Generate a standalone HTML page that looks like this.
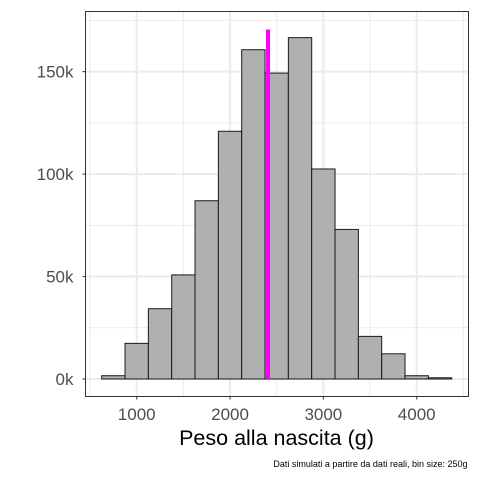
<!DOCTYPE html>
<html><head><meta charset="utf-8"><style>
body{margin:0;background:#fff;}
svg{display:block;font-family:"Liberation Sans",sans-serif;}
</style></head><body>
<svg id="chart" width="480" height="480"></svg>
<script>
const binCenters=[750,1000,1250,1500,1750,2000,2250,2500,2750,3000,3250,3500,3750,4000,4250];
const counts=[1.6,17.4,34.3,50.8,87,120.9,160.7,149.3,166.6,102.5,73,20.8,12.3,1.6,0.6];
const binWidth=250;
const xTicks=[1000,2000,3000,4000];
const xTickLabels=["1000","2000","3000","4000"];
const xMinor=[500,1500,2500,3500,4500];
const yTicks=[0,50,100,150];
const yTickLabels=["0k","50k","100k","150k"];
const yMinor=[25,75,125,175];
const meanLine=2407, meanTop=170.6;
const L=85.5,R=468.5,T=11.5,B=396.5;
const xs=v=>136.7+(v-1000)*0.093333;
const ys=v=>379-v*2.049;
const svg=document.getElementById('chart');
const NS='http://www.w3.org/2000/svg';
function mk(tag,attrs,parent){const e=document.createElementNS(NS,tag);for(const k in attrs)e.setAttribute(k,attrs[k]);(parent||svg).appendChild(e);return e;}
const panel=mk('rect',{x:L,y:T,width:R-L,height:B-T,fill:'#fff'});


const grid=mk('g',{});


xMinor.forEach(v=>{const x=xs(v);if(x>L&&x<R)mk('line',{x1:x,x2:x,y1:T,y2:B,stroke:'#ebebeb','stroke-width':1},grid);});
yMinor.forEach(v=>{const y=ys(v);if(y>T&&y<B)mk('line',{x1:L,x2:R,y1:y,y2:y,stroke:'#ebebeb','stroke-width':1},grid);});
xTicks.forEach(v=>mk('line',{x1:xs(v),x2:xs(v),y1:T,y2:B,stroke:'#ebebeb','stroke-width':2},grid));
yTicks.forEach(v=>mk('line',{x1:L,x2:R,y1:ys(v),y2:ys(v),stroke:'#ebebeb','stroke-width':2},grid));
const bars=mk('g',{});


binCenters.forEach((c,i)=>{
  const x0=xs(c-binWidth/2),x1=xs(c+binWidth/2),y=ys(counts[i]);
  const r=mk('rect',{x:x0,y:y,width:x1-x0,height:ys(0)-y,fill:'#b0b0b0',stroke:'#1a1a1a','stroke-width':1},bars);
  
  
});
const ml=mk('line',{x1:xs(meanLine),x2:xs(meanLine),y1:ys(meanTop),y2:ys(0),stroke:'#ff00ff','stroke-width':4});


const border=mk('rect',{x:L,y:T,width:R-L,height:B-T,fill:'none',stroke:'#333','stroke-width':1});


xTicks.forEach((v,i)=>{
  mk('line',{x1:xs(v),x2:xs(v),y1:B,y2:B+3,stroke:'#333'});
  const t=mk('text',{x:xs(v),y:420,'text-anchor':'middle','font-size':17,fill:'#4d4d4d'});
  t.textContent=xTickLabels[i];
  
  
});
yTicks.forEach((v,i)=>{
  mk('line',{x1:L-3,x2:L,y1:ys(v),y2:ys(v),stroke:'#333'});
  const t=mk('text',{x:L-12,y:ys(v)+6,'text-anchor':'end','font-size':17,fill:'#4d4d4d'});
  t.textContent=yTickLabels[i];
  
  
});
const xt=mk('text',{x:(L+R)/2-0.5,y:445,'text-anchor':'middle','font-size':21.5,fill:'#000'});
xt.textContent='Peso alla nascita (g)';


const cap=mk('text',{x:R-1,y:467,'text-anchor':'end','font-size':9,fill:'#000'});
cap.textContent='Dati simulati a partire da dati reali, bin size: 250g';


</script>
</body></html>
